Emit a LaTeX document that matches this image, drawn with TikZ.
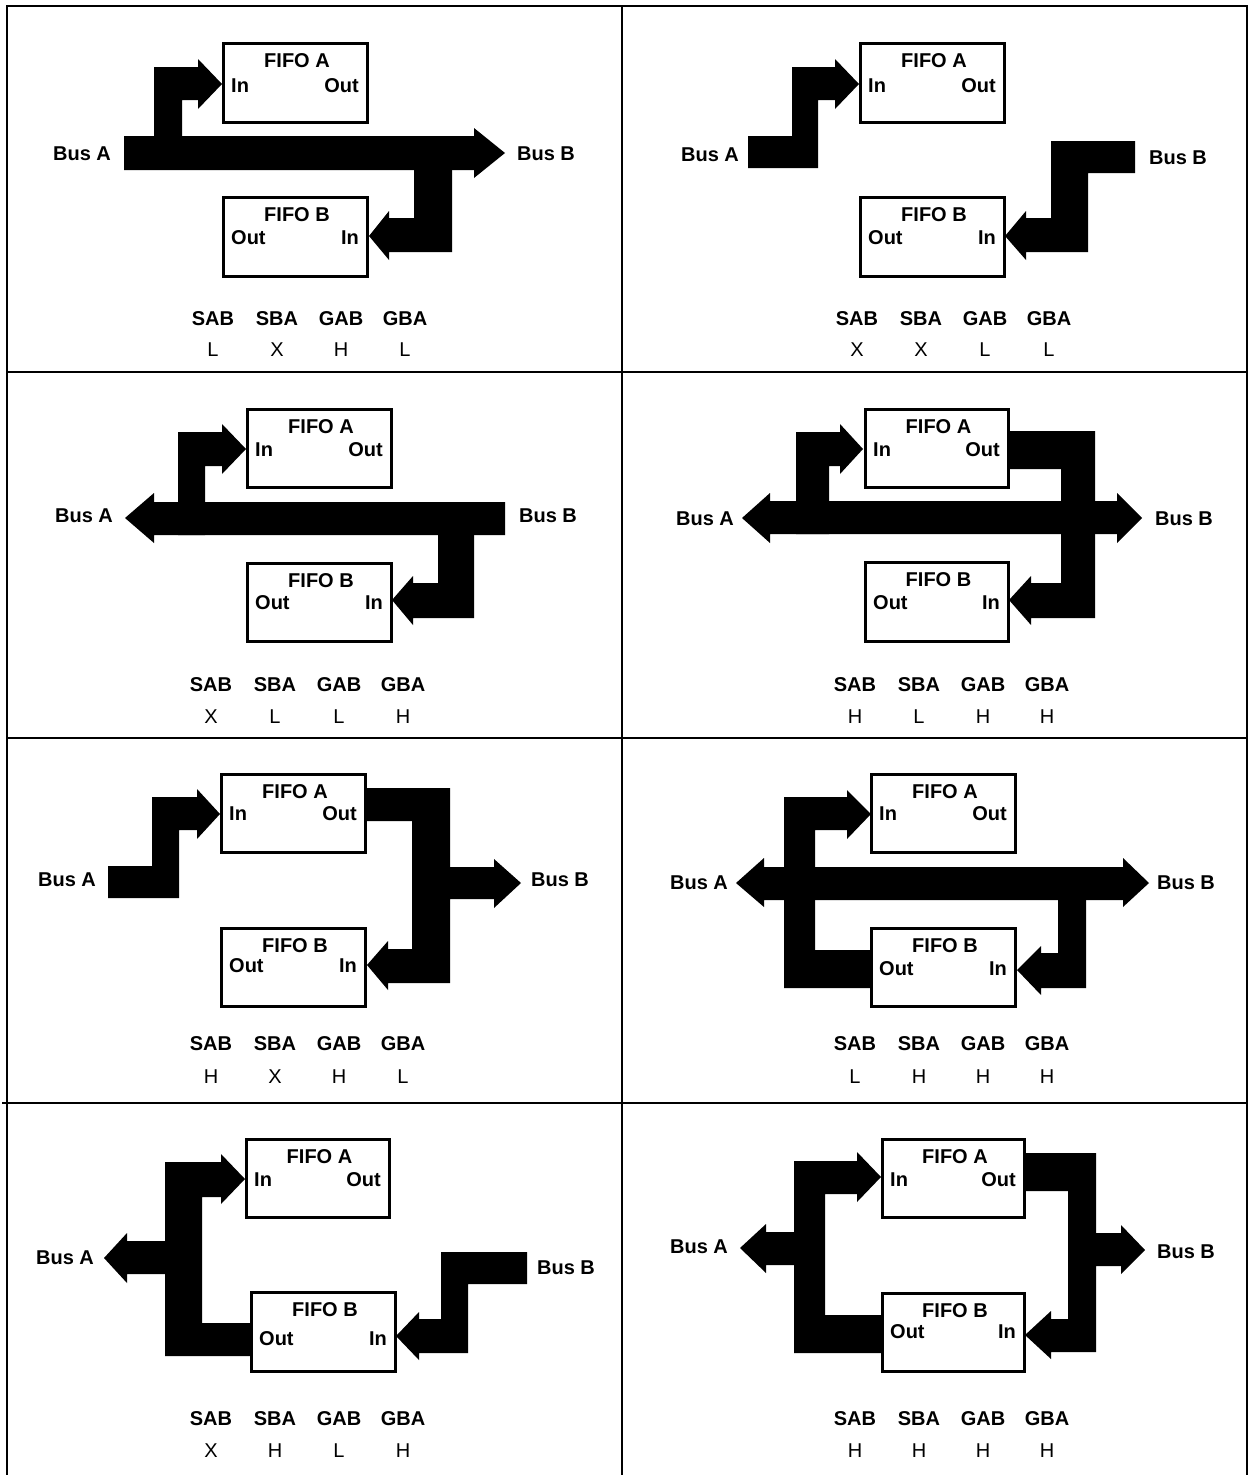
\documentclass[tikz,border=0pt]{standalone}
\usepackage{fontspec}
\setmainfont{Liberation Sans}
\tikzset{
  fbox/.style={draw, line width=3pt, inner sep=0pt, fill=white},
  lbl/.style={inner sep=0pt, font=\fontsize{20}{24}\selectfont\bfseries},
  val/.style={inner sep=0pt, font=\fontsize{20}{24}\selectfont},
  bus/.style={fill=black},
  framel/.style={line width=2.5pt},
}
% #1 name, #2 x1, #3 y1, #4 x2, #5 y2, #6 title, #7 left, #8 right, #9 port dy
\newcommand{\fifobox}[9]{%
  \node[fbox, minimum width={(#4-#2)*1pt}, minimum height={(#5-#3)*1pt}]
    (#1) at ({(#2+#4)/2},{(#3+#5)/2}) {};
  \node[lbl] (#1t) at ({(#2+#4)/2+2},{#3+18}) {#6};
  \node[lbl, anchor=west] (#1l) at ({#2+8},{#3+#9}) {#7};
  \node[lbl, anchor=east] (#1r) at ({#4-8},{#3+#9}) {#8};
}
% #1 prefix, #2 x0, #3 y header, #4 y values, #5..#8 values
\newcommand{\sigtable}[8]{%
  \node[lbl] (#1h1) at (#2,#3) {SAB};
  \node[lbl] (#1h2) at ({#2+64},#3) {SBA};
  \node[lbl] (#1h3) at ({#2+128},#3) {GAB};
  \node[lbl] (#1h4) at ({#2+192},#3) {GBA};
  \node[val] (#1v1) at (#2,#4) {#5};
  \node[val] (#1v2) at ({#2+64},#4) {#6};
  \node[val] (#1v3) at ({#2+128},#4) {#7};
  \node[val] (#1v4) at ({#2+192},#4) {#8};
}
\begin{document}
\begin{tikzpicture}[x=1pt,y=-1pt]
\useasboundingbox (0,0) rectangle (1249,1475);
% frame
\draw[framel] (7,1475) -- (7,6) -- (1247,6) -- (1247,1475);
\draw[framel] (622,6) -- (622,1475);
\draw[framel] (7,372) -- (1247,372);
\draw[framel] (7,738) -- (1247,738);
\draw[framel] (2,1103) -- (1247,1103);

% ===== Panel 1 =====
\fill[bus] (124,136) -- (474,136) -- (474,128) -- (505,153) -- (474,178) -- (474,170) -- (124,170) -- cycle;
\fill[bus] (154,136) -- (154,67) -- (198,67) -- (198,59) -- (222,84) -- (198,109) -- (198,100) -- (182,100) -- (182,136) -- cycle;
\fill[bus] (414,136) -- (452,136) -- (452,252) -- (389,252) -- (389,260) -- (369,236) -- (389,211) -- (389,218) -- (414,218) -- cycle;
\fifobox{p1a}{223}{43}{367}{122}{FIFO A}{In}{Out}{43}
\fifobox{p1b}{223}{197}{367}{276}{FIFO B}{Out}{In}{41}
\node[lbl] (p1busa) at (82,154) {Bus A};
\node[lbl] (p1busb) at (546,154) {Bus B};
\sigtable{p1}{213}{319}{350}{L}{X}{H}{L}

% ===== Panel 2 =====
\fill[bus] (748,136) -- (792,136) -- (792,67) -- (835,67) -- (835,59) -- (859,84) -- (835,109) -- (835,100) -- (818,100) -- (818,168) -- (748,168) -- cycle;
\fill[bus] (1051,141) -- (1135,141) -- (1135,173) -- (1088,173) -- (1088,252) -- (1026,252) -- (1026,260) -- (1005,236) -- (1026,211) -- (1026,218) -- (1051,218) -- cycle;
\fifobox{p2a}{860}{43}{1004}{122}{FIFO A}{In}{Out}{43}
\fifobox{p2b}{860}{197}{1004}{276}{FIFO B}{Out}{In}{41}
\node[lbl] (p2busa) at (710,155) {Bus A};
\node[lbl] (p2busb) at (1178,158) {Bus B};
\sigtable{p2}{857}{319}{350}{X}{X}{L}{L}

% ===== Panel 3 =====
\fill[bus] (505,502) -- (505,535) -- (154,535) -- (154,543) -- (125,518) -- (154,493) -- (154,502) -- cycle;
\fill[bus] (178,535) -- (178,432) -- (222,432) -- (222,424) -- (246,449) -- (222,474) -- (222,466) -- (205,466) -- (205,535) -- cycle;
\fill[bus] (438,502) -- (474,502) -- (474,618) -- (413,618) -- (413,625) -- (392,600) -- (413,576) -- (413,583) -- (438,583) -- cycle;
\fifobox{p3a}{247}{409}{391}{487}{FIFO A}{In}{Out}{41}
\fifobox{p3b}{247}{563}{391}{641}{FIFO B}{Out}{In}{40}
\node[lbl] (p3busa) at (84,516) {Bus A};
\node[lbl] (p3busb) at (548,516) {Bus B};
\sigtable{p3}{211}{685}{717}{X}{L}{L}{H}

% ===== Panel 4 =====
\fill[bus] (770,501) -- (1117,501) -- (1117,493) -- (1142,518) -- (1117,543) -- (1117,534) -- (770,534) -- (770,543) -- (742,518) -- (770,493) -- cycle;
\fill[bus] (796,534) -- (796,432) -- (840,432) -- (840,424) -- (863,449) -- (840,474) -- (840,466) -- (829,466) -- (829,534) -- cycle;
\fill[bus] (1008,431) -- (1095,431) -- (1095,618) -- (1031,618) -- (1031,625) -- (1009,600) -- (1031,576) -- (1031,583) -- (1061,583) -- (1061,469) -- (1008,469) -- cycle;
\fifobox{p4a}{865}{409}{1008}{487}{FIFO A}{In}{Out}{41}
\fifobox{p4b}{865}{562}{1008}{641}{FIFO B}{Out}{In}{41}
\node[lbl] (p4busa) at (705,519) {Bus A};
\node[lbl] (p4busb) at (1184,519) {Bus B};
\sigtable{p4}{855}{685}{717}{H}{L}{H}{H}

% ===== Panel 5 =====
\fill[bus] (108,866) -- (152,866) -- (152,797) -- (197,797) -- (197,789) -- (220,814) -- (197,839) -- (197,830) -- (179,830) -- (179,898) -- (108,898) -- cycle;
\fill[bus] (365,788) -- (450,788) -- (450,867) -- (494,867) -- (494,859) -- (521,883) -- (494,908) -- (494,899) -- (450,899) -- (450,983) -- (388,983) -- (388,990) -- (367,965) -- (388,941) -- (388,949) -- (412,949) -- (412,821) -- (365,821) -- cycle;
\fifobox{p5a}{221}{774}{365}{852}{FIFO A}{In}{Out}{40}
\fifobox{p5b}{221}{928}{365}{1006}{FIFO B}{Out}{In}{38}
\node[lbl] (p5busa) at (67,880) {Bus A};
\node[lbl] (p5busb) at (560,880) {Bus B};
\sigtable{p5}{211}{1044}{1077}{H}{X}{H}{L}

% ===== Panel 6 =====
\fill[bus] (764,867) -- (1123,867) -- (1123,858) -- (1149,883) -- (1123,907) -- (1123,900) -- (764,900) -- (764,907) -- (736,883) -- (764,858) -- cycle;
\fill[bus] (784,988) -- (784,797) -- (847,797) -- (847,790) -- (871,814) -- (847,839) -- (847,830) -- (815,830) -- (815,950) -- (871,950) -- (871,988) -- cycle;
\fill[bus] (1058,867) -- (1086,867) -- (1086,988) -- (1041,988) -- (1041,995) -- (1017,970) -- (1041,946) -- (1041,953) -- (1058,953) -- cycle;
\fifobox{p6a}{871}{774}{1015}{852}{FIFO A}{In}{Out}{40}
\fifobox{p6b}{871}{928}{1015}{1006}{FIFO B}{Out}{In}{41}
\node[lbl] (p6busa) at (699,883) {Bus A};
\node[lbl] (p6busb) at (1186,883) {Bus B};
\sigtable{p6}{855}{1044}{1077}{L}{H}{H}{H}

% ===== Panel 7 =====
\fill[bus] (165,1356) -- (165,1274) -- (127,1274) -- (127,1283) -- (104,1258) -- (127,1233) -- (127,1241) -- (165,1241) -- (165,1162) -- (221,1162) -- (221,1154) -- (245,1179) -- (221,1204) -- (221,1197) -- (202,1197) -- (202,1323) -- (251,1323) -- (251,1356) -- cycle;
\fill[bus] (441,1252) -- (527,1252) -- (527,1284) -- (468,1284) -- (468,1353) -- (419,1353) -- (419,1360) -- (396,1336) -- (419,1312) -- (419,1319) -- (441,1319) -- cycle;
\fifobox{p7a}{246}{1139}{389}{1217}{FIFO A}{In}{Out}{41}
\fifobox{p7b}{251}{1292}{395}{1371}{FIFO B}{Out}{In}{47}
\node[lbl] (p7busa) at (65,1258) {Bus A};
\node[lbl] (p7busb) at (566,1268) {Bus B};
\sigtable{p7}{211}{1419}{1451}{X}{H}{L}{H}

% ===== Panel 8 =====
\fill[bus] (794,1353) -- (794,1265) -- (766,1265) -- (766,1273) -- (740,1248) -- (766,1224) -- (766,1232) -- (794,1232) -- (794,1161) -- (857,1161) -- (857,1152) -- (881,1177) -- (857,1202) -- (857,1194) -- (825,1194) -- (825,1315) -- (882,1315) -- (882,1353) -- cycle;
\fill[bus] (1024,1153) -- (1096,1153) -- (1096,1233) -- (1121,1233) -- (1121,1225) -- (1145,1250) -- (1121,1274) -- (1121,1266) -- (1096,1266) -- (1096,1352) -- (1051,1352) -- (1051,1359) -- (1025,1335) -- (1051,1311) -- (1051,1319) -- (1068,1319) -- (1068,1191) -- (1024,1191) -- cycle;
\fifobox{p8a}{882}{1139}{1024}{1217}{FIFO A}{In}{Out}{41}
\fifobox{p8b}{882}{1293}{1024}{1371}{FIFO B}{Out}{In}{39}
\node[lbl] (p8busa) at (699,1247) {Bus A};
\node[lbl] (p8busb) at (1186,1252) {Bus B};
\sigtable{p8}{855}{1419}{1451}{H}{H}{H}{H}
\end{tikzpicture}
\end{document}
